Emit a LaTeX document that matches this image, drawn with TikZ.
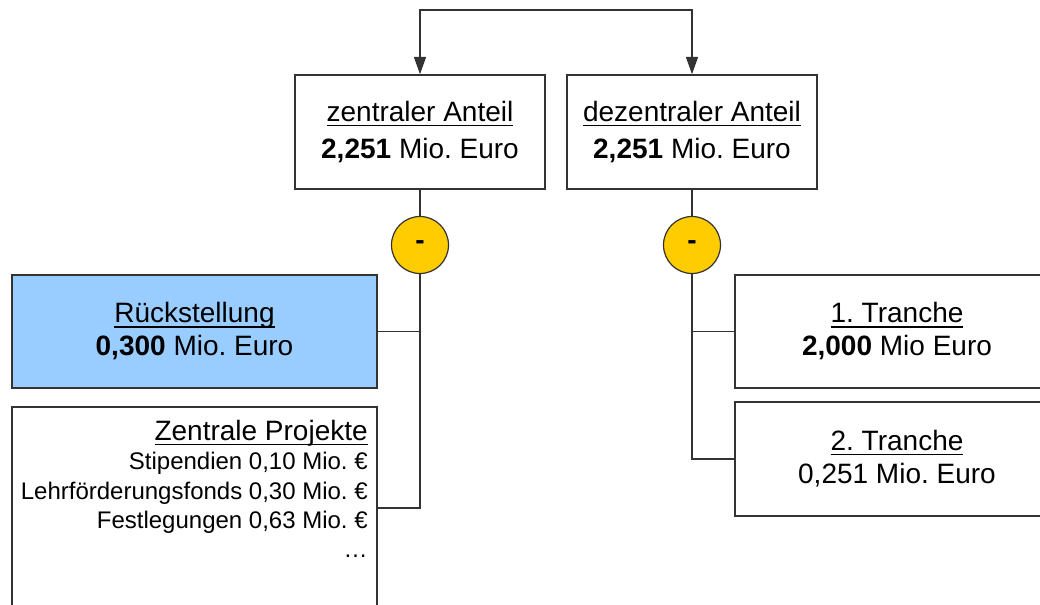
\documentclass[tikz,border=0pt]{standalone}
\usepackage{fontspec}
\setmainfont{Liberation Sans}
\usetikzlibrary{arrows.meta}
\frenchspacing
\definecolor{gold}{HTML}{FFCC00}
\definecolor{skyb}{HTML}{99CCFF}
\definecolor{edgec}{HTML}{333333}
\newsavebox\myulbox
\newcommand\myul[1]{\sbox\myulbox{#1}\rlap{\rule[-3.4pt]{\wd\myulbox}{0.9pt}}\usebox\myulbox}
\tikzset{
  boxnode/.style={draw=edgec, line width=1.1pt, fill=white, inner sep=0pt, align=center,
    font=\fontsize{21}{24.75}\selectfont},
  topbox/.style={boxnode, minimum width=187.5pt, minimum height=85.5pt,
    font=\fontsize{21}{27.75}\selectfont},
  minusnode/.style={circle, draw=edgec, fill=gold, line width=0.9pt, minimum size=42.75pt,
    inner sep=0pt, font=\fontsize{21}{21}\selectfont\bfseries},
  conn/.style={draw=edgec, line width=1.1pt},
  tipped/.style={conn, -{Triangle[length=13pt,width=9pt]}}
}
\begin{document}
\frenchspacing
\begin{tikzpicture}[x=0.75pt,y=-0.75pt]
\useasboundingbox (0,0) rectangle (1040,604);
\clip (0,0) rectangle (1040,604);
\node[topbox] (zA) at (420,132) {\myul{zentraler Anteil}\\\textbf{2,251} Mio. Euro};
\node[topbox] (dA) at (692,132) {\myul{dezentraler Anteil}\\\textbf{2,251} Mio. Euro};
\node[minusnode] (m1) at (420,245) {-};
\node[minusnode] (m2) at (692,245) {-};
\node[boxnode, fill=skyb, minimum width=273.75pt, minimum height=84.75pt] (rs) at (194.5,331.5)
  {\myul{Rückstellung}\\\textbf{0,300} Mio. Euro};
\node[boxnode, minimum width=273.75pt, minimum height=151.5pt] (zp) at (194.5,508) {};
\node[anchor=north east, inner sep=0pt, align=right, font=\fontsize{18}{22}\selectfont] (zpt) at (368,420)
  {{\fontsize{21}{22}\selectfont\myul{Zentrale Projekte}}\\
   Stipendien 0,10 Mio. €\\
   Lehrförderungsfonds 0,30 Mio. €\\
   Festlegungen 0,63 Mio. €\\
   …};
\node[boxnode, minimum width=243pt, minimum height=84.75pt] (t1) at (897,331.5)
  {\myul{1. Tranche}\\\textbf{2,000} Mio Euro};
\node[boxnode, minimum width=243pt, minimum height=85.5pt] (t2) at (897,459)
  {\myul{2. Tranche}\\0,251 Mio. Euro};
\coordinate (top) at (557,10);
\draw[tipped] (top) -| (zA.north);
\draw[tipped] (top) -| (dA.north);
\draw[conn] (zA.south) -- (m1.north);
\draw[conn] (dA.south) -- (m2.north);
\draw[conn] (m1.south) |- (rs.east);
\draw[conn] (m1.south) |- (zp.east);
\draw[conn] (m2.south) |- (t1.west);
\draw[conn] (m2.south) |- (t2.west);
\end{tikzpicture}
\end{document}
